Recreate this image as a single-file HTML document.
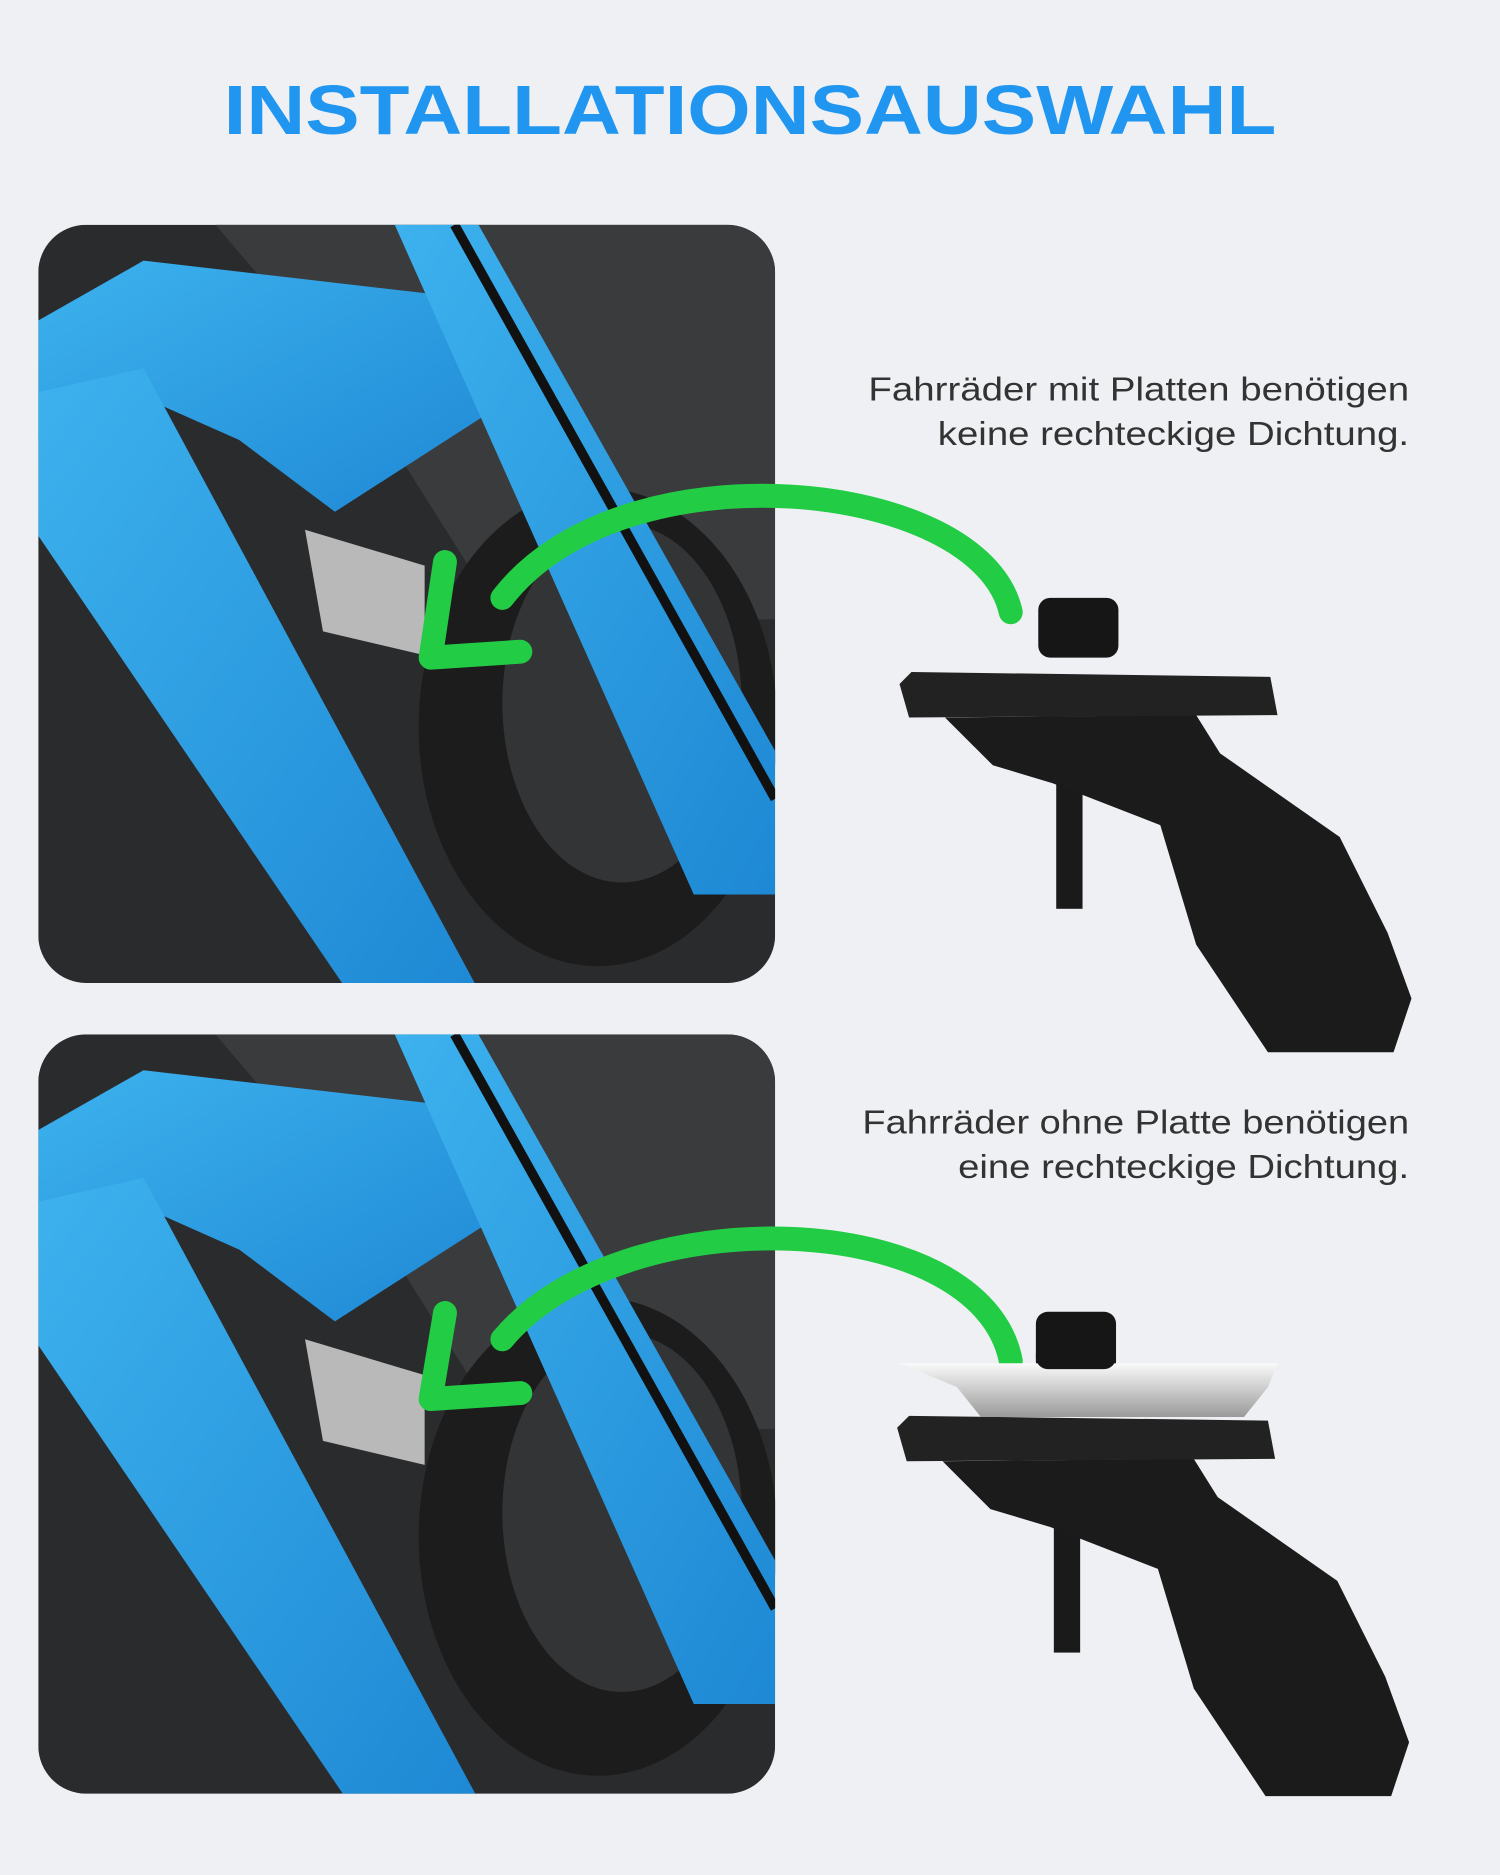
<!DOCTYPE html>
<html><head><meta charset="utf-8"><style>
html,body{margin:0;padding:0;background:#eef0f3;}
svg{display:block}
</style></head><body>
<svg width="1500" height="1875" viewBox="0 0 1254 1568" preserveAspectRatio="none" xmlns="http://www.w3.org/2000/svg">
<defs>
<clipPath id="c1"><rect x="32" y="188" width="616" height="634" rx="40"/></clipPath>
<clipPath id="c2"><rect x="32" y="865" width="616" height="635" rx="40"/></clipPath>
<linearGradient id="bl" x1="0" y1="0" x2="1" y2="1"><stop offset="0" stop-color="#3db2ee"/><stop offset="1" stop-color="#1e88d4"/></linearGradient>
<linearGradient id="sv" x1="0" y1="0" x2="0" y2="1"><stop offset="0" stop-color="#fafafa"/><stop offset="1" stop-color="#9a9a9a"/></linearGradient>
<g id="panel">
  <rect x="32" y="0" width="616" height="640" fill="#2a2b2d"/>
  <polygon points="180,0 648,0 648,330 420,330 300,140" fill="#3a3b3d"/>
  <ellipse cx="500" cy="420" rx="150" ry="200" fill="#1c1c1d"/>
  <ellipse cx="520" cy="400" rx="100" ry="150" fill="#333436"/>
  <polygon points="32,80 120,30 380,60 420,150 280,240 200,180 110,140 32,180" fill="url(#bl)"/>
  <polygon points="32,140 120,120 400,640 290,640 32,260" fill="url(#bl)"/>
  <polygon points="330,0 400,0 648,440 648,560 580,560" fill="url(#bl)"/>
  <line x1="380" y1="0" x2="648" y2="480" stroke="#111" stroke-width="8"/>
  <polygon points="255,255 355,285 355,360 270,340" fill="#b9b9b9"/>
</g>
</defs>
<rect width="1254" height="1568" fill="#eef0f3"/>
<text x="627" y="112" text-anchor="middle" font-family="Liberation Sans, sans-serif" font-weight="bold" font-size="58" fill="#2196f0" textLength="880" lengthAdjust="spacingAndGlyphs">INSTALLATIONSAUSWAHL</text>

<g clip-path="url(#c1)"><use href="#panel" y="188"/></g>
<g clip-path="url(#c2)"><use href="#panel" y="865"/></g>

<g font-family="Liberation Sans, sans-serif" font-size="28" fill="#333">
<text x="726" y="335" textLength="452" lengthAdjust="spacingAndGlyphs">Fahrräder mit Platten benötigen</text>
<text x="784" y="372" textLength="394" lengthAdjust="spacingAndGlyphs">keine rechteckige Dichtung.</text>
<text x="721" y="948" textLength="457" lengthAdjust="spacingAndGlyphs">Fahrräder ohne Platte benötigen</text>
<text x="801" y="985" textLength="377" lengthAdjust="spacingAndGlyphs">eine rechteckige Dichtung.</text>
</g>

<g fill="none" stroke="#22cc44" stroke-width="20" stroke-linecap="round" stroke-linejoin="round">
<path d="M845,512 C820,400 520,370 420,500"/>
<polyline points="372,470 360,550 435,545"/>
<path d="M845,1138 C820,1010 520,1000 420,1120"/>
<polyline points="372,1098 360,1170 435,1165"/>
</g>

<g id="m1">
<rect x="883" y="645" width="22" height="115" fill="#1a1a1a"/>
<polygon points="790,600 1000,598 1020,630 1120,700 1160,780 1180,835 1165,880 1060,880 1000,790 970,690 880,655 830,640" fill="#1b1b1c"/>
<polygon points="752,572 762,562 1062,566 1068,598 760,600" fill="#222"/>
<rect x="868" y="500" width="67" height="50" rx="10" fill="#161616"/>
</g>
<use href="#m1" x="-2" y="622"/>
<polygon points="752,1140 1068,1140 1060,1160 1040,1185 820,1185 800,1160" fill="url(#sv)"/>
<rect x="866" y="1097" width="67" height="48" rx="10" fill="#161616"/>
</svg>
</body></html>
